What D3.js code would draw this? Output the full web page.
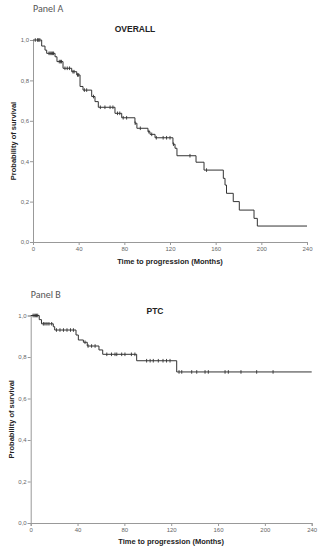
<!DOCTYPE html>
<html><head><meta charset="utf-8">
<script src="https://cdn.jsdelivr.net/npm/d3@7"></script>
<style>body{margin:0;background:#fff}svg{display:block}</style>
</head><body><svg id="c" width="321" height="550"></svg>
<script>
// Panel A: OVERALL (event times in months, survival after the step)
const overallTimes = [0, 7.6, 10.5, 12, 19.3, 21, 26.3, 33.9, 38.3, 41.2, 43.8, 51.4, 54.3, 57.2, 71.8, 77.7, 89.3, 91, 100.7, 102.5, 106.9, 122.6, 124.4, 126.1, 142.8, 149.8, 166.7, 168.2, 169.5, 175.4, 180.7, 193.6, 196.5, 240];
const overallSurv  = [1.0, 0.97, 0.95, 0.934, 0.917, 0.893, 0.86, 0.843, 0.827, 0.77, 0.752, 0.72, 0.695, 0.667, 0.637, 0.615, 0.588, 0.563, 0.546, 0.533, 0.516, 0.484, 0.464, 0.427, 0.395, 0.356, 0.315, 0.282, 0.241, 0.2, 0.158, 0.117, 0.079, 0.079];
const overallCensor = [2, 4, 5, 6, 14, 15, 16, 17, 18, 23, 24, 25, 28, 30, 32, 35, 36, 39, 40, 45, 47, 53, 59, 63, 67.5, 70, 74, 76, 79, 82, 89.5, 94, 101.5, 104, 108, 114, 117, 120, 123, 137.5, 152];
// Panel B: PTC
const ptcTimes = [0, 7.3, 9.2, 19.3, 20.5, 38.7, 40.7, 45, 48.3, 58.3, 61.5, 90.5, 124.7, 240];
const ptcSurv  = [1.0, 0.98, 0.96, 0.946, 0.93, 0.906, 0.882, 0.871, 0.853, 0.834, 0.813, 0.782, 0.728, 0.728];
const ptcCensor = [2, 3, 4, 5, 6, 10.8, 12.2, 13.9, 15.6, 17.9, 22, 25, 28, 31, 34, 36.5, 46.4, 49, 52, 55, 65, 69, 72, 73.5, 77.7, 80.5, 86, 89, 99, 102, 104.7, 109, 113, 116, 119, 126.7, 129, 137.5, 141.8, 148.9, 151.7, 166, 168.8, 179.6, 193, 207];

const xTicks = [0, 40, 80, 120, 160, 200, 240];
const yTicks = [0, 0.2, 0.4, 0.6, 0.8, 1.0];

const svg = d3.select("#c");
const FONT = "'Liberation Sans', Arial, sans-serif";

function panel(cfg) {
  const x = d3.scaleLinear().domain([0, 240]).range([cfg.x0, cfg.x1]);
  const y = d3.scaleLinear().domain([0, 1]).range([cfg.y0, cfg.y1]);
  const g = svg.append("g");

  g.append("text").attr("x", cfg.x0).attr("y", cfg.panelY).text(cfg.panelLabel)
    .attr("font-family", "Calibri, 'Open Sans', sans-serif").attr("font-size", 10).attr("fill", "#555");
  g.append("text").attr("x", cfg.titleX).attr("y", cfg.titleY).text(cfg.title)
    .attr("text-anchor", "middle").attr("font-family", FONT).attr("font-size", 8.5).attr("font-weight", "bold").attr("fill", "#222");

  const xa = g.append("g").attr("transform", `translate(0,${cfg.y0})`)
    .call(d3.axisBottom(x).tickValues(xTicks).tickSize(3).tickPadding(2).tickFormat(d3.format("d")));
  const ya = g.append("g").attr("transform", `translate(${cfg.x0},0)`)
    .call(d3.axisLeft(y).tickValues(yTicks).tickSize(3).tickPadding(1).tickFormat(d => d3.format(".1f")(d).replace(".", ",")));
  [xa, ya].forEach(a => {
    a.select(".domain").attr("stroke", "#999");
    a.selectAll(".tick line").attr("stroke", "#999");
    a.selectAll("text").attr("font-family", FONT).attr("font-size", 6).attr("fill", "#666");
  });

  g.append("text").attr("x", (cfg.x0 + cfg.x1) / 2).attr("y", cfg.xTitleY).text("Time to progression (Months)")
    .attr("text-anchor", "middle").attr("font-family", FONT).attr("font-size", 7.5).attr("font-weight", "bold").attr("fill", "#222");
  g.append("text").attr("transform", `translate(${cfg.yTitleX},${(cfg.y0 + cfg.y1) / 2}) rotate(-90)`)
    .text("Probability of survival")
    .attr("text-anchor", "middle").attr("font-family", FONT).attr("font-size", 7.5).attr("font-weight", "bold").attr("fill", "#222");

  const pts = cfg.times.map((t, i) => [t, cfg.surv[i]]);
  const line = d3.line().x(d => x(d[0])).y(d => y(d[1])).curve(d3.curveStepAfter);
  g.append("path").attr("d", line(pts)).attr("fill", "none").attr("stroke", "#333").attr("stroke-width", 1);

  const survAt = t => { let s = 1; cfg.times.forEach((tt, i) => { if (tt <= t) s = cfg.surv[i]; }); return s; };
  g.selectAll(".cens").data(cfg.censor).join("line")
    .attr("x1", d => x(d)).attr("x2", d => x(d))
    .attr("y1", d => y(survAt(d)) - 1.8).attr("y2", d => y(survAt(d)) + 1.8)
    .attr("stroke", "#333").attr("stroke-width", 0.9);
}

panel({x0: 33, x1: 307, y0: 242, y1: 40, panelLabel: "Panel A", panelY: 12, title: "OVERALL", titleX: 135, titleY: 32,
  xTitleY: 264, yTitleX: 16, times: overallTimes, surv: overallSurv, censor: overallCensor});
panel({x0: 30.7, x1: 311.7, y0: 523, y1: 315.5, panelLabel: "Panel B", panelY: 298, title: "PTC", titleX: 155, titleY: 313.5,
  xTitleY: 544, yTitleX: 14, times: ptcTimes, surv: ptcSurv, censor: ptcCensor});
</script></body></html>
